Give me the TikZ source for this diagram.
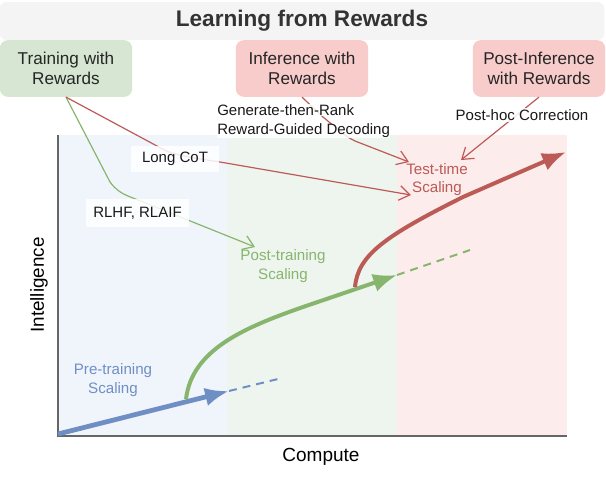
\documentclass[tikz,border=0pt]{standalone}
\usepackage{fontspec}
\setmainfont{Liberation Sans}
\usetikzlibrary{arrows,arrows.meta,positioning}
\definecolor{titlegray}{HTML}{F4F4F4}
\definecolor{boxgreen}{HTML}{D6E6D2}
\definecolor{boxred}{HTML}{F7CCCB}
\definecolor{zoneblue}{HTML}{F0F5FC}
\definecolor{zonegreen}{HTML}{EEF5EE}
\definecolor{zonered}{HTML}{FDECEC}
\definecolor{curveblue}{HTML}{6F8FC4}
\definecolor{curvegreen}{HTML}{88B56E}
\definecolor{curvered}{HTML}{BC5A55}
\definecolor{axisgray}{HTML}{666666}
\newcommand{\px}{0.0264583cm}
\tikzset{
  topbox/.style={rounded corners=6pt,minimum width=3.5cm,minimum height=1.5cm,align=center,font=\fontsize{12.9pt}{15pt}\selectfont,text=black!85},
  tagnode/.style={fill=white,fill opacity=0.85,text opacity=1,font=\fontsize{11.3pt}{13pt}\selectfont,inner sep=1pt,text=black!90},
  phase/.style={align=center,font=\fontsize{11.4pt}{14pt}\selectfont},
  thinline/.style={line width=0.9pt,-{Straight Barb[length=8pt,width=11pt]}},
  mainline/.style={line width=3pt,-{Latex[length=18pt,width=14pt]}},
  dashline/.style={line width=1.5pt,dash pattern=on 6pt off 4.5pt},
}
\begin{document}
\begin{tikzpicture}[x=\px,y=-\px]
      \useasboundingbox (0,0) rectangle (606,500);

      % zones
      \fill [zoneblue] (58,135) rectangle (227,436);
      \fill [zonegreen] (227,135) rectangle (397,436);
      \fill [zonered] (397,135) rectangle (567,436);

      % header
      \node [fill=titlegray,rounded corners=5pt,minimum width=16cm,minimum height=1.0cm,text=black!80,font=\bfseries\fontsize{17pt}{19pt}\selectfont,name=title] at (302,21) {Learning from Rewards};
      \node [topbox,fill=boxgreen,name=train] at (66,68.5) {Training with\\Rewards};
      \node [topbox,fill=boxred,name=infer] at (302,68.5) {Inference with\\Rewards};
      \node [topbox,fill=boxred,name=post] at (539,68.5) {Post-Inference\\with Rewards};

      % phase labels
      \node [phase,text=curveblue,name=pre] at (113,380) {Pre-training\\Scaling};
      \node [phase,text=curvegreen,name=mid] at (283,266) {Post-training\\Scaling};
      \node [phase,text=curvered,name=test] at (437,179.5) {Test-time\\Scaling};

      \coordinate (a) at (255,247);
      \coordinate (b) at (409,162);
      \coordinate (c) at (411,195);
      \coordinate (d) at (461,160);

      % connectors
      \draw [curvegreen,thinline] (train.south) -- (110,182) .. controls (116,190) and (122,194) .. (133,198) -- (a);
      \draw [curvered,thinline] (train.south) -- (157,146) .. controls (170,154) and (180,156) .. (220,162) -- (c);
      \draw [curvered,thinline] (infer.south) -- (323,117) -- (340,131) .. controls (346,136) and (349,138) .. (355,141) -- (b);
      \draw [curvered,thinline] (post.south) -- (d);

      % tags
      \node [tagnode,name=cot,minimum width=2.33cm,minimum height=0.69cm] at (175,159) {Long CoT};
      \node [tagnode,minimum width=2.72cm,minimum height=0.74cm,name=rlhf] at (137.5,213) {RLHF, RLAIF};
      \node [tagnode,name=gen,anchor=west,inner sep=0pt] at (217,110) {Generate-then-Rank};
      \node [tagnode,name=dec,anchor=west,inner sep=0pt] at (217,131) {Reward-Guided Decoding};
      \node [tagnode,name=fix] at (522,115) {Post-hoc Correction};

      % axes
      \coordinate (o) at (58,436);
      \draw [axisgray,line width=1.6pt] (58,135) -- (o) -- (567,436);
      \node [font=\fontsize{14.3pt}{16pt}\selectfont,name=xlab] at (321,456.5) {Compute};
      \node [font=\fontsize{14.2pt}{16pt}\selectfont,rotate=90,name=ylab] at (39,285) {Intelligence};

      % curves
      \draw [curveblue,mainline,line width=3.6pt] (58,434) -- (229,391);
      \draw [curveblue,dashline] (229,391) -- (282,378);
      \draw [curvegreen,mainline] (186,399) .. controls (192,350) and (243,328) .. (303,307) -- (397,275);
      \draw [curvegreen,dashline] (397,275) -- (470,250);
      \draw [curvered,mainline] (355,287) .. controls (358,255) and (385,236) .. (463,197) -- (566,152);
\end{tikzpicture}
\end{document}
